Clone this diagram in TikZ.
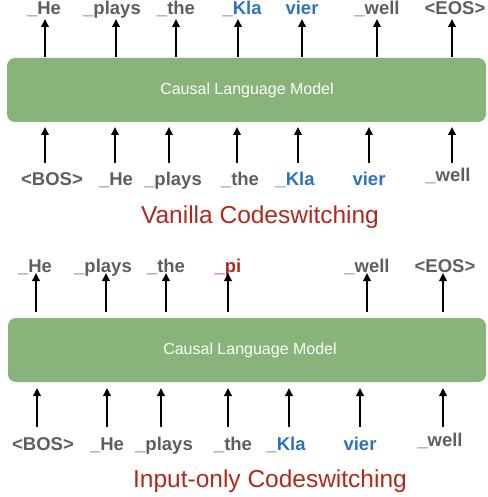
\documentclass[tikz,border=0pt]{standalone}
\usepackage{fontspec}
\setmainfont{Liberation Sans}
\usetikzlibrary{arrows.meta}
\definecolor{tokgray}{HTML}{5E5E5E}
\definecolor{tokblue}{HTML}{2E72BD}
\definecolor{titred}{HTML}{B02A1C}
\definecolor{boxgreen}{HTML}{88B47A}
\tikzset{
  tok/.style={font=\fontsize{18.5}{20}\selectfont\bfseries, text=tokgray, inner sep=0pt, anchor=base},
  btok/.style={tok, text=tokblue},
  rtok/.style={tok, text=titred},
  arr/.style={line width=1.8pt, -{Triangle[width=7.5pt,length=8pt]}},
  model/.style={fill=boxgreen, draw=none, rounded corners=8pt},
  modeltxt/.style={font=\fontsize{16}{18}\selectfont, text=white, inner sep=0pt},
  title/.style={font=\fontsize{24.5}{26}\selectfont, text=titred, inner sep=0pt, anchor=base}
}
\begin{document}
\begin{tikzpicture}[x=1pt,y=-1pt]
\useasboundingbox (0,0) rectangle (487,497);
% ---------- panel 1 ----------
\path[model] (7,58) rectangle (486,122);
\node[modeltxt] (m1) at (247,90) {Causal Language Model};
\coordinate (box1n) at (247,58);
% outputs
\node[tok]  (o11) at (44,15)  {\_He};
\node[tok]  (o12) at (112,15) {\_plays};
\node[tok]  (o13) at (176,15) {\_the};
\node[btok] (o14) at (242,15) {\_Kla};
\node[btok] (o15) at (302,15) {vier};
\node[tok]  (o16) at (377,15) {\_well};
\node[tok]  (o17) at (455,15) {<EOS>};
\foreach \x in {45,116,176,238,302,377,452}
  \draw[arr] (\x,0 |- box1n) ++(0,-1) -- (\x,19);
% inputs
\node[tok]  (i11) at (52,185)  {<BOS>};
\node[tok]  (i12) at (116,185) {\_He};
\node[tok]  (i13) at (173,185) {\_plays};
\node[tok]  (i14) at (240,185) {\_the};
\node[btok] (i15) at (295,185) {\_Kla};
\node[btok] (i16) at (369,185) {vier};
\node[tok]  (i17) at (448,181) {\_well};
\foreach \x in {45,115,169,237,298,369,452}
  \draw[arr] (\x,163) -- (\x,127);
\node[title] (t1) at (260,223) {Vanilla Codeswitching};
% ---------- panel 2 ----------
\path[model] (8,318) rectangle (486,382);
\node[modeltxt] (m2) at (250,350) {Causal Language Model};
% outputs
\node[tok]  (o21) at (35,272)  {\_He};
\node[tok]  (o22) at (103,272) {\_plays};
\node[tok]  (o23) at (166,272) {\_the};
\node[rtok] (o24) at (228,272) {\_pi};
\node[tok]  (o25) at (367,272) {\_well};
\node[tok]  (o26) at (445,272) {<EOS>};
\foreach \x in {36,106,166,228,367,443}
  \draw[arr] (\x,312) -- (\x,273);
% inputs
\node[tok]  (i21) at (43,450)  {<BOS>};
\node[tok]  (i22) at (107,450) {\_He};
\node[tok]  (i23) at (164,450) {\_plays};
\node[tok]  (i24) at (233,450) {\_the};
\node[btok] (i25) at (286,450) {\_Kla};
\node[btok] (i26) at (360,450) {vier};
\node[tok]  (i27) at (440,446) {\_well};
\foreach \x in {37,107,161,228,289,360,443}
  \draw[arr] (\x,427) -- (\x,388);
\node[title] (t2) at (270,487) {Input-only Codeswitching};
\end{tikzpicture}
\end{document}
